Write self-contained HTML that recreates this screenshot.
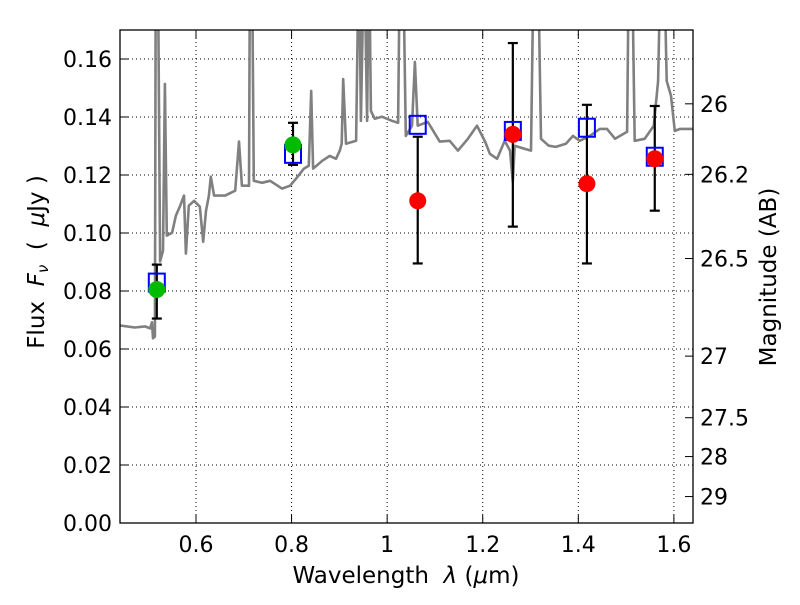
<!DOCTYPE html>
<html><head><meta charset="utf-8"><style>
body{margin:0;background:#fff}
svg text{font-family:"DejaVu Sans","Liberation Sans",sans-serif;fill:#000}
</style></head><body>
<svg id="chart" width="800" height="600" xmlns="http://www.w3.org/2000/svg"></svg>
<script>
const xTicks=[0.6,0.8,1.0,1.2,1.4,1.6];
const xTickLabels=["0.6","0.8","1","1.2","1.4","1.6"];
const yTicks=[0,0.02,0.04,0.06,0.08,0.10,0.12,0.14,0.16];
const yTickLabels=["0.00","0.02","0.04","0.06","0.08","0.10","0.12","0.14","0.16"];
const magTicks=[26,26.2,26.5,27,27.5,28,29];
const magTickLabels=["26","26.2","26.5","27","27.5","28","29"];
const specWave=[0.441,0.472,0.493,0.504,0.508,0.510,0.514,0.516,0.520,0.525,0.531,0.535,0.539,0.550,0.558,0.567,0.575,0.579,0.585,0.596,0.608,0.615,0.621,0.627,0.631,0.638,0.661,0.682,0.690,0.696,0.711,0.713,0.717,0.721,0.738,0.755,0.780,0.797,0.809,0.826,0.836,0.841,0.845,0.864,0.880,0.893,0.901,0.905,0.908,0.914,0.935,0.941,0.945,0.952,0.958,0.962,0.966,0.974,0.989,1.010,1.023,1.027,1.033,1.039,1.052,1.058,1.064,1.085,1.110,1.131,1.148,1.169,1.188,1.205,1.215,1.230,1.246,1.257,1.263,1.267,1.288,1.301,1.307,1.315,1.322,1.338,1.353,1.374,1.389,1.403,1.424,1.445,1.460,1.477,1.502,1.506,1.512,1.518,1.539,1.558,1.567,1.573,1.579,1.585,1.594,1.602,1.613,1.640];
const specFlux=[0.0681,0.0674,0.0678,0.0671,0.0692,0.0637,0.0643,0.2,0.2,0.0902,0.0939,0.1514,0.0991,0.1001,0.106,0.1094,0.1129,0.0929,0.1094,0.1111,0.1091,0.0970,0.1077,0.1129,0.1194,0.1129,0.1129,0.1146,0.1315,0.1163,0.1163,0.2,0.2,0.118,0.1173,0.118,0.1153,0.1163,0.1187,0.1222,0.1232,0.149,0.1222,0.1249,0.1266,0.1256,0.1284,0.1308,0.1531,0.1308,0.1318,0.2,0.1387,0.2,0.1387,0.2,0.1421,0.1394,0.1401,0.1387,0.138,0.2,0.2,0.1335,0.137,0.159,0.137,0.1383,0.1315,0.1318,0.1284,0.1325,0.137,0.1315,0.1273,0.1256,0.1318,0.1284,0.1177,0.1301,0.129,0.1284,0.2,0.2,0.1325,0.1301,0.1297,0.1308,0.1335,0.1318,0.1335,0.1359,0.1359,0.1325,0.1349,0.2,0.2,0.1318,0.1325,0.137,0.1524,0.2,0.2,0.1524,0.1473,0.1352,0.1359,0.1359];
const obsWave=[0.518,0.803,1.064,1.263,1.418,1.560];
const obsFlux=[0.0805,0.1304,0.1111,0.1340,0.1170,0.1256];
const obsErrLo=[0.0705,0.1235,0.0895,0.1022,0.0895,0.1077];
const obsErrHi=[0.0891,0.138,0.1332,0.1655,0.1442,0.1438];
const obsColor=["#00bb00","#00bb00","red","red","red","red"];
const modelFlux=[0.0829,0.1273,0.1373,0.1352,0.1363,0.1263];

const L=120,R=693,T=30,B=523,xmin=0.441,xmax=1.64,ymin=0,ymax=0.17;
const X=v=>L+(v-xmin)/(xmax-xmin)*(R-L);
const Y=v=>B-(v-ymin)/(ymax-ymin)*(B-T);
const magToFlux=m=>Math.pow(10,-0.4*(m-23.9));
const svg=document.getElementById('chart');
const NS="http://www.w3.org/2000/svg";
function mk(tag,attrs,parent){const e=document.createElementNS(NS,tag);for(const k in attrs)e.setAttribute(k,attrs[k]);(parent||svg).appendChild(e);return e;}
const defs=mk('defs',{});
const cp=mk('clipPath',{id:'clip'},defs);mk('rect',{x:L,y:T,width:R-L,height:B-T},cp);

xTicks.forEach(v=>{const g=mk('line',{x1:X(v),x2:X(v),y1:T,y2:B,stroke:'#000','stroke-width':1,'stroke-dasharray':'1,3'});

});
yTicks.forEach(v=>{const g=mk('line',{x1:L,x2:R,y1:Y(v),y2:Y(v),stroke:'#000','stroke-width':1,'stroke-dasharray':'1,3'});

});

const d=specWave.map((w,i)=>(i?'L':'M')+X(w).toFixed(1)+','+Y(specFlux[i]).toFixed(1)).join('');
const sp=mk('path',{d:d,fill:'none',stroke:'#808080','stroke-width':2.6,'clip-path':'url(#clip)','stroke-linejoin':'round'});



obsWave.forEach((w,i)=>{
 const x=X(w);
 const eb=mk('g',{stroke:'#000','stroke-width':2.2});
 
 
 mk('line',{x1:x,x2:x,y1:Y(obsErrLo[i]),y2:Y(obsErrHi[i])},eb);
 mk('line',{x1:x-5,x2:x+5,y1:Y(obsErrLo[i]),y2:Y(obsErrLo[i])},eb);
 mk('line',{x1:x-5,x2:x+5,y1:Y(obsErrHi[i]),y2:Y(obsErrHi[i])},eb);
});
obsWave.forEach((w,i)=>{
 const s=mk('rect',{x:X(w)-8,y:Y(modelFlux[i])-9,width:16,height:18,fill:'none',stroke:'#0000ff','stroke-width':2});
 
 
});
obsWave.forEach((w,i)=>{
 const c=mk('circle',{cx:X(w),cy:Y(obsFlux[i]),r:8.5,fill:obsColor[i]});
 
 
});

const fr=mk('rect',{x:L,y:T,width:R-L,height:B-T,fill:'none',stroke:'#000','stroke-width':1.3});



xTicks.forEach((v,i)=>{
 mk('line',{x1:X(v),x2:X(v),y1:B,y2:B-8,stroke:'#000'});
 mk('line',{x1:X(v),x2:X(v),y1:T,y2:T+8,stroke:'#000'});
 const t=mk('text',{x:X(v),y:B+29,'text-anchor':'middle','font-size':22});
 t.textContent=xTickLabels[i];
 
 
});
yTicks.forEach((v,i)=>{
 mk('line',{x1:L,x2:L+8,y1:Y(v),y2:Y(v),stroke:'#000'});
 const t=mk('text',{x:L-8,y:Y(v)+8,'text-anchor':'end','font-size':22});
 t.textContent=yTickLabels[i];
 
 
});
magTicks.forEach((m,i)=>{
 const y=Y(magToFlux(m));
 mk('line',{x1:R,x2:R-8,y1:y,y2:y,stroke:'#000'});
 const t=mk('text',{x:R+7,y:y+8,'text-anchor':'start','font-size':22});
 t.textContent=magTickLabels[i];
 
 
});
</script>
<svg style="position:absolute;left:0;top:0" width="800" height="600" xmlns="http://www.w3.org/2000/svg">
<text x="406" y="583" text-anchor="middle" font-size="23" style="font-family:'DejaVu Sans',sans-serif">Wavelength&#160;&#160;<tspan font-style="italic">λ</tspan> (<tspan font-style="italic">μ</tspan>m)</text>
<text transform="translate(44,262) rotate(-90)" text-anchor="middle" font-size="23" style="font-family:'DejaVu Sans',sans-serif">Flux&#160;&#160;<tspan font-style="italic">F</tspan><tspan font-style="italic" font-size="15" dy="4">ν</tspan><tspan dy="-4">&#160;&#160;(&#160;&#160;</tspan><tspan font-style="italic">μ</tspan>Jy )</text>
<text transform="translate(776,277) rotate(-90)" text-anchor="middle" font-size="23" style="font-family:'DejaVu Sans',sans-serif">Magnitude (AB)</text>
</svg>
</body></html>
